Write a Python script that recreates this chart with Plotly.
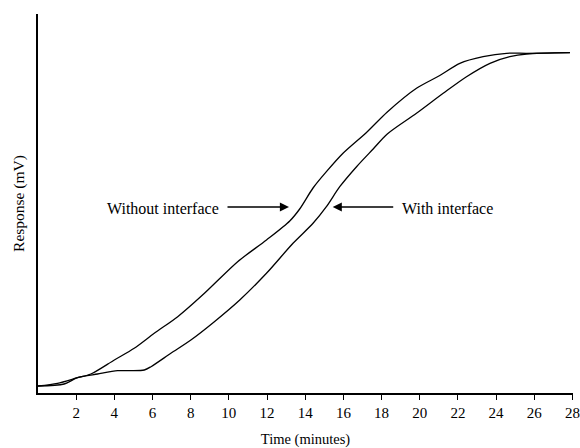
import plotly.graph_objects as go

# Time (minutes)
t_without = [0, 1.02, 2.07, 2.77, 4.0, 5.04, 6.09, 7.32, 8.72, 10.46, 11.97, 13.19, 13.71,
             14.41, 15.11, 15.98, 17.21, 18.3, 19.83, 21.05, 22.1, 23.32, 24.55, 25.6, 27.87]
v_without = [7, 9.7, 15.3, 19, 33, 44.7, 59.7, 76.3, 99.7, 131.3, 153, 172, 184,
             205, 221.3, 239.7, 260.5, 281, 304.7, 317.5, 329.7, 336.3, 339.7, 339.7, 340.3]

t_with = [0, 1.37, 2.07, 3.12, 4.17, 4.87, 5.57, 5.92, 6.96, 8.01, 9.24, 10.57, 11.97, 13.36,
          14.41, 15.11, 15.81, 16.69, 17.56, 18.3, 19.83, 21.23, 22.45, 23.68, 24.72, 25.6, 27.87]
v_with = [7, 9, 15.3, 19, 22.3, 22.3, 23, 26.3, 39.7, 53, 71.3, 93, 119.7, 149.7,
          169.7, 186.3, 206.3, 226.3, 244, 259, 279.7, 299.7, 316.3, 329.7, 336.3, 339, 340.3]

tick_vals = list(range(2, 29, 2))
tick_text = [str(v) for v in tick_vals]

FONT = "Liberation Serif"

fig = go.Figure()
fig.add_trace(go.Scatter(x=t_without, y=v_without, mode="lines", name="Without interface",
                         line=dict(color="black", width=1.3, shape="spline", smoothing=0.8)))
fig.add_trace(go.Scatter(x=t_with, y=v_with, mode="lines", name="With interface",
                         line=dict(color="black", width=1.3, shape="spline", smoothing=0.8)))

# arrows
fig.add_annotation(x=13.15, y=186, ax=9.85, ay=186, xref="x", yref="y", axref="x", ayref="y",
                   text="", showarrow=True, arrowhead=2, arrowsize=1.4, arrowwidth=1.3,
                   arrowcolor="black")
fig.add_annotation(x=15.44, y=186, ax=18.69, ay=186, xref="x", yref="y", axref="x", ayref="y",
                   text="", showarrow=True, arrowhead=2, arrowsize=1.4, arrowwidth=1.3,
                   arrowcolor="black")
fig.add_annotation(x=9.6, y=185, xref="x", yref="y", text="Without interface", showarrow=False,
                   xanchor="right", yanchor="middle", font=dict(family=FONT, size=16, color="black"))
fig.add_annotation(x=18.95, y=185, xref="x", yref="y", text="With interface", showarrow=False,
                   xanchor="left", yanchor="middle", font=dict(family=FONT, size=16, color="black"))

fig.update_layout(
    width=580, height=448,
    margin=dict(l=38, r=7, t=14, b=55),
    paper_bgcolor="white", plot_bgcolor="white",
    showlegend=False,
    font=dict(family=FONT, size=14.5, color="black"),
    xaxis=dict(range=[0, 28.03], tickvals=tick_vals, ticktext=tick_text, ticks="outside",
               ticklen=5, tickwidth=1.3, tickcolor="black", showline=True, linecolor="black",
               linewidth=1.5, showgrid=False, zeroline=False, automargin=False,
               tickfont=dict(family=FONT, size=15),
               title=dict(text="Time (minutes)", standoff=15, font=dict(family=FONT, size=14.5))),
    yaxis=dict(range=[0, 379], showticklabels=False, ticks="", showline=True, linecolor="black",
               linewidth=1.5, showgrid=False, zeroline=False,
               title=dict(text="Response (mV)", standoff=8, font=dict(family=FONT, size=15.5))),
)

fig.write_html("out.html")
